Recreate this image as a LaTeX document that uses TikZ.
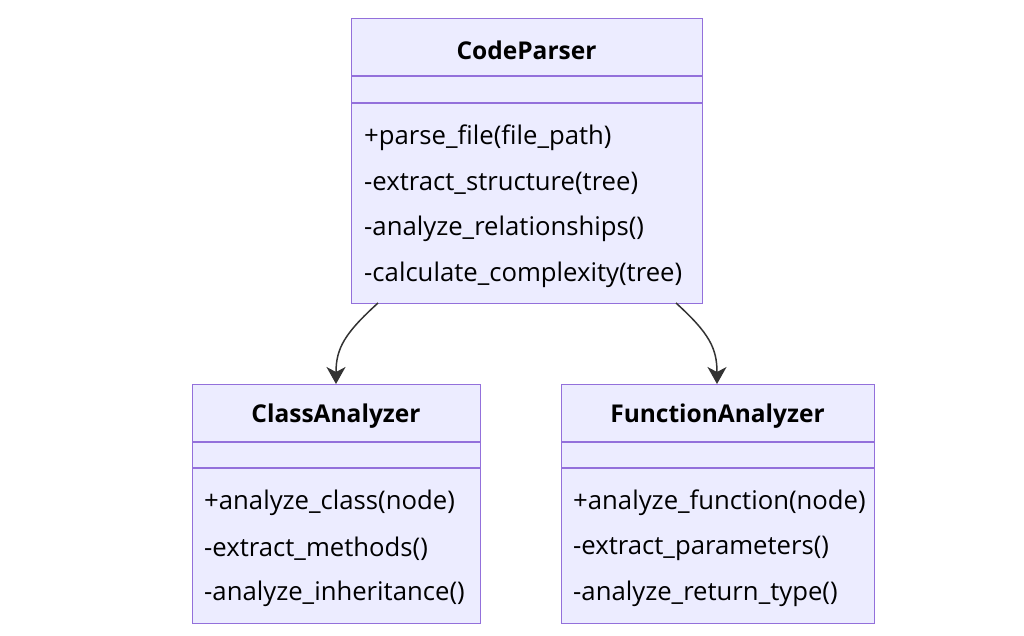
\documentclass[tikz,border=0pt]{standalone}
\usepackage{fontspec}
\setmainfont{Open Sans}
\usetikzlibrary{arrows.meta}
\definecolor{boxfill}{HTML}{ECECFF}
\definecolor{boxline}{HTML}{9370DB}
\definecolor{edge}{HTML}{333333}
\begin{document}
\begin{tikzpicture}[x=1pt,y=-1pt,
  box/.style={draw=boxline,fill=boxfill,line width=1.3pt},
  divider/.style={draw=boxline,line width=1.3pt},
  title/.style={font=\fontsize{24.5}{28}\selectfont\bfseries,text=black,inner sep=0pt},
  member/.style={font=\fontsize{25.7}{30}\selectfont,text=black,anchor=west,inner sep=0pt},
  rel/.style={draw=edge,line width=1.5pt,-{Stealth[length=17pt,width=19pt,inset=5pt]}}]
\useasboundingbox (0,0) rectangle (1024,635);
% CodeParser
\node[box,minimum width=351pt,minimum height=285pt,anchor=north west,inner sep=0pt] (cp) at (351,18) {};
\draw[divider] (351,76) -- (702,76);
\draw[divider] (351,103) -- (702,103);
\node[title] (cpt) at (526.5,50) {CodeParser};
\node[member] (cp1) at (364,137.5) {+parse\_file(file\_path)};
\node[member] (cp2) at (364,183.5) {-extract\_structure(tree)};
\node[member] (cp3) at (364,228.5) {-analyze\_relationships()};
\node[member] (cp4) at (364,274.5) {-calculate\_complexity(tree)};
% ClassAnalyzer
\node[box,minimum width=288pt,minimum height=239pt,anchor=north west,inner sep=0pt] (ca) at (192,384) {};
\draw[divider] (192,442) -- (480,442);
\draw[divider] (192,468) -- (480,468);
\node[title] (cat) at (336,416) {ClassAnalyzer};
\node[member] (ca1) at (204,502.5) {+analyze\_class(node)};
\node[member] (ca2) at (204,548.5) {-extract\_methods()};
\node[member] (ca3) at (204,593.5) {-analyze\_inheritance()};
% FunctionAnalyzer
\node[box,minimum width=313pt,minimum height=239pt,anchor=north west,inner sep=0pt] (fa) at (561,384) {};
\draw[divider] (561,442) -- (874,442);
\draw[divider] (561,468) -- (874,468);
\node[title] (fat) at (717.5,416) {FunctionAnalyzer};
\node[member] (fa1) at (573,502.5) {+analyze\_function(node)};
\node[member] (fa2) at (573,548.5) {-extract\_parameters()};
\node[member] (fa3) at (573,593.5) {-analyze\_return\_type()};
% relations
\coordinate (s1) at (378,303);
\coordinate (e1) at (336,384);
\coordinate (s2) at (676,303);
\coordinate (e2) at (717,384);
\draw[rel] (s1) .. controls (345,333) and (336,348) .. (e1);
\draw[rel] (s2) .. controls (709,333) and (717,348) .. (e2);
\end{tikzpicture}
\end{document}
